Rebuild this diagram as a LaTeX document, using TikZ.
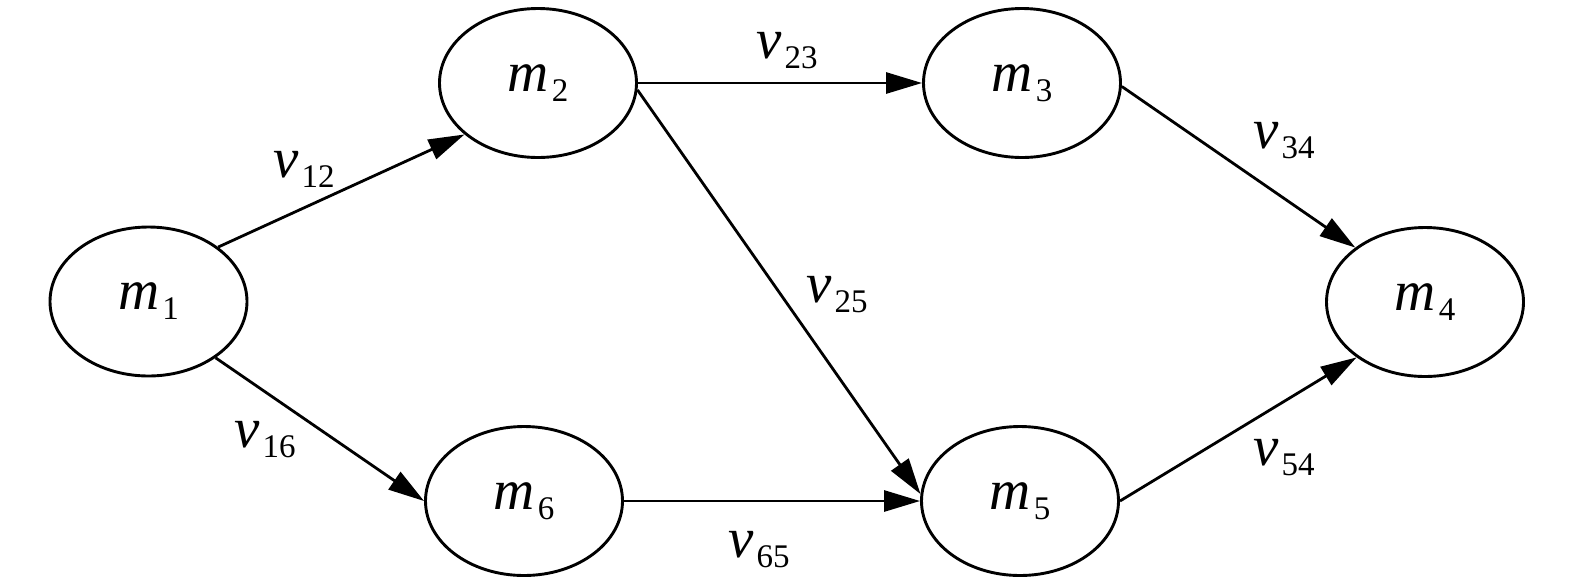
\documentclass[tikz,border=0pt]{standalone}
\usepackage{fontspec}
\setmainfont{Liberation Serif}
\usetikzlibrary{arrows.meta,shapes.geometric}
\newcommand{\mysub}[2]{{\fontsize{28.5}{28.5}\selectfont\itshape #1}\hspace{1.5pt}\raisebox{-5pt}{\fontsize{16.5}{16.5}\selectfont #2}}
\begin{document}
\begin{tikzpicture}[x=0.5pt,y=-0.5pt,
  state/.style={ellipse,draw,line width=1.45pt,minimum width=98.5pt,minimum height=74.5pt,inner sep=0pt},
  edge/.style={line width=1.4pt,-{Triangle[length=18pt,width=10.5pt]}},
  lbl/.style={anchor=base west,inner sep=0pt}]
\useasboundingbox (0,0) rectangle (1575,585);
\node[state] (m1) at (148.5,301.5) {\mysub{m}{1}};
\node[state] (m2) at (538,83) {\mysub{m}{2}};
\node[state] (m3) at (1022,83) {\mysub{m}{3}};
\node[state] (m4) at (1425,302) {\mysub{m}{4}};
\node[state] (m5) at (1020,501) {\mysub{m}{5}};
\node[state] (m6) at (524,501) {\mysub{m}{6}};
\draw[edge] (m1.38) -- (m2.215);
\draw[edge] (m1.-40) -- (m6.west);
\draw[edge] (m2.east) -- (m3.west);
\draw[edge] (m2.-4) -- (m5.176);
\draw[edge] (m6.east) -- (m5.west);
\draw[edge] (m3.-2) -- (m4.142);
\draw[edge] (m5.east) -- (m4.219);
\node[lbl] (v12) at (273,177) {\mysub{v}{12}};
\node[lbl] (v23) at (756,58) {\mysub{v}{23}};
\node[lbl] (v25) at (806,302) {\mysub{v}{25}};
\node[lbl] (v34) at (1253,148) {\mysub{v}{34}};
\node[lbl] (v54) at (1253,465) {\mysub{v}{54}};
\node[lbl] (v16) at (234,447) {\mysub{v}{16}};
\node[lbl] (v65) at (728,557) {\mysub{v}{65}};
\end{tikzpicture}
\end{document}
